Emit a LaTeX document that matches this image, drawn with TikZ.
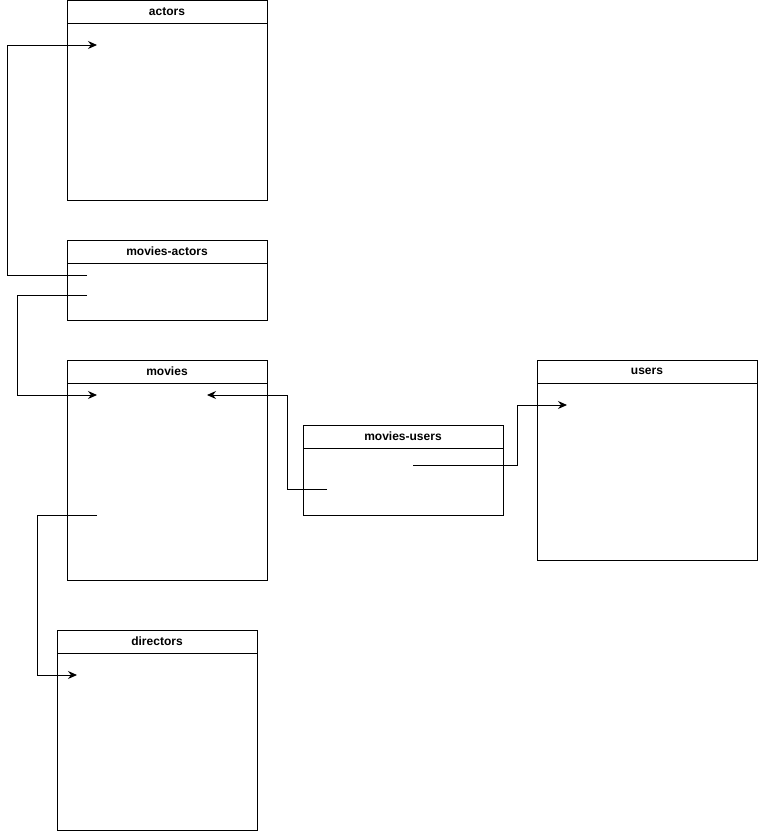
\documentclass[tikz,border=0pt]{standalone}
\usepackage{fontspec}
\setmainfont{Liberation Sans}
\usetikzlibrary{arrows.meta}
\tikzset{
  head/.style={draw,inner sep=0pt,outer sep=0pt,minimum height=23pt,anchor=north west,font=\bfseries\fontsize{12}{14}\selectfont},
  body/.style={draw,inner sep=0pt,outer sep=0pt,anchor=north west},
  link/.style={-{Stealth[length=9pt,width=8pt,inset=3pt]}}
}
\begin{document}
\begin{tikzpicture}[x=1pt,y=-1pt,line width=1pt]
\useasboundingbox (0,0) rectangle (758,831);
% tables
\node[head,minimum width=200pt] (actors) at (67,0.5) {actors};
\node[body,minimum width=200pt,minimum height=177pt] (actorsbody) at (actors.south west) {};
\node[head,minimum width=200pt] (moviesactors) at (67,240) {movies-actors};
\node[body,minimum width=200pt,minimum height=57pt] (moviesactorsbody) at (moviesactors.south west) {};
\node[head,minimum width=200pt] (movies) at (67,360) {movies};
\node[body,minimum width=200pt,minimum height=197pt] (moviesbody) at (movies.south west) {};
\node[head,minimum width=200pt] (directors) at (57,630) {directors};
\node[body,minimum width=200pt,minimum height=177pt] (directorsbody) at (directors.south west) {};
\node[head,minimum width=200pt] (moviesusers) at (303,425) {movies-users};
\node[body,minimum width=200pt,minimum height=67pt] (moviesusersbody) at (moviesusers.south west) {};
\node[head,minimum width=220pt] (users) at (537,360) {users};
\node[body,minimum width=220pt,minimum height=177pt] (usersbody) at (users.south west) {};
% field ends
\coordinate (actorsid) at (97,45);
\coordinate (maactor) at (87,275);
\coordinate (mamovie) at (87,295);
\coordinate (moviesid) at (97,395);
\coordinate (moviesid2) at (207,395);
\coordinate (moviesdirector) at (97,515);
\coordinate (directorsid) at (77,675);
\coordinate (mumovie) at (327,489);
\coordinate (muuser) at (413,465);
\coordinate (usersid) at (567,405);
% links
\draw[link] (maactor) -- ++(-80,0) |- (actorsid);
\draw[link] (mamovie) -- ++(-70,0) |- (moviesid);
\draw[link] (mumovie) -- ++(-40,0) |- (moviesid2);
\draw[link] (muuser) -- ++(104,0) |- (usersid);
\draw[link] (moviesdirector) -- ++(-60,0) |- (directorsid);
\end{tikzpicture}
\end{document}
